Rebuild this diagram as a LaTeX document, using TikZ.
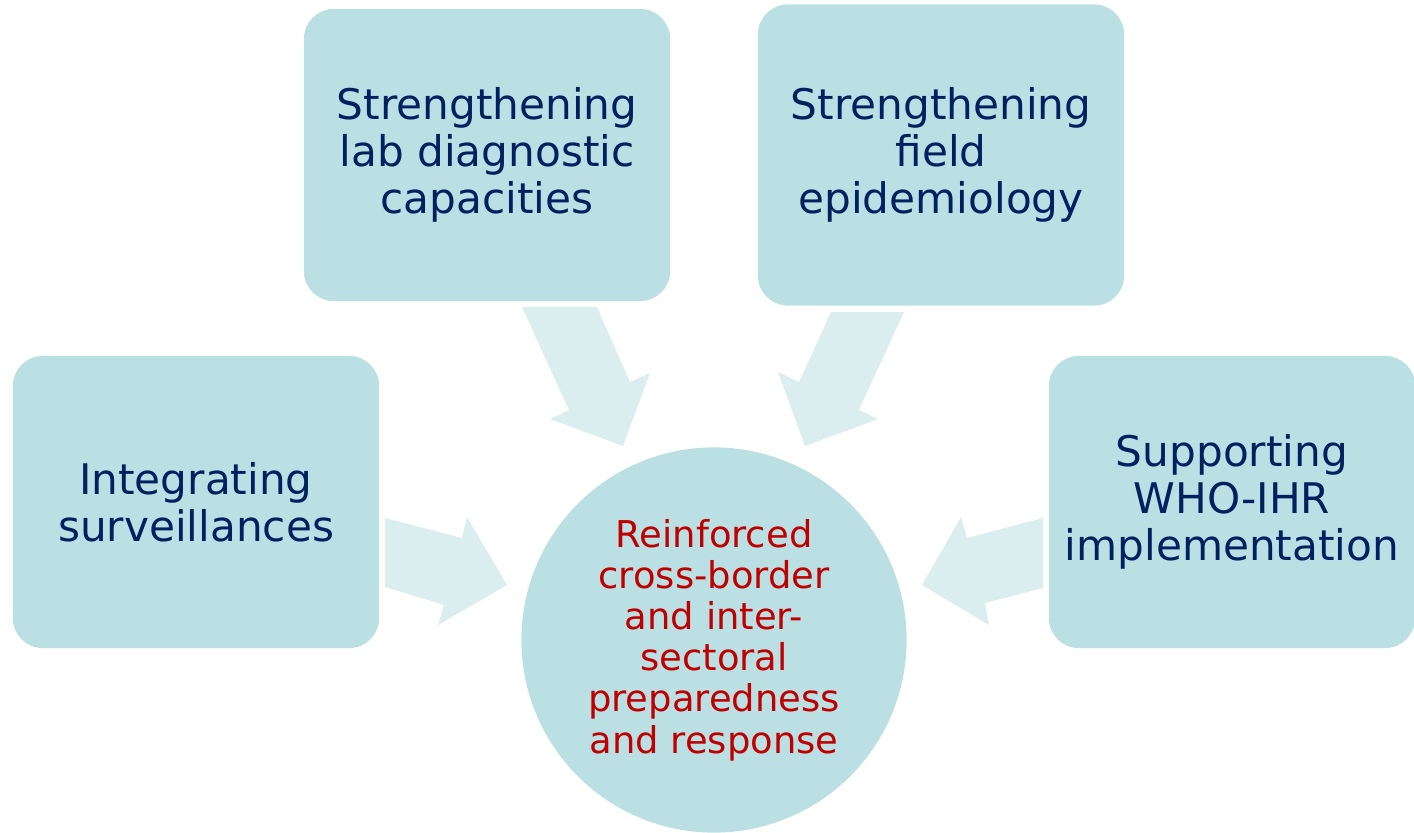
\documentclass[tikz,border=0pt]{standalone}
\usepackage{fontspec}
\setmainfont{DejaVu Sans}
\usetikzlibrary{positioning}
\definecolor{boxteal}{RGB}{186,224,227}
\definecolor{paleteal}{RGB}{218,237,239}
\definecolor{navytext}{RGB}{0,32,96}
\definecolor{redtext}{RGB}{192,0,0}
\tikzset{
  goal/.style={fill=boxteal,rounded corners=8.5pt,minimum width=3.66cm,minimum height=2.92cm,align=center,text=navytext,font=\fontsize{12}{13.3}\selectfont},
  hub/.style={circle,fill=boxteal,minimum size=3.85cm,inner sep=0pt,align=center,text=redtext,font=\fontsize{10.5}{11.7}\selectfont},
  flow/.style={fill=paleteal}
}
\begin{document}
\begin{tikzpicture}[x=0.01cm,y=-0.01cm]
  \useasboundingbox (0,0) rectangle (1414,833);
  % the four fields of action
  \node[goal] (lab) at (487,155) {Strengthening\\lab diagnostic\\capacities};
  \node[goal,minimum height=3.01cm] (field) at (941,155) {Strengthening\\field\\epidemiology};
  \node[goal] (surv) at (196,502) {Integrating\\surveillances};
  \node[goal] (ihr) at (1232,502) {Supporting\\WHO-IHR\\implementation};
  % converging block arrows
  \fill[flow] (385,518)--(462,538)--(467,517)--(507,585)--(438,625)--(444,605)--(385,587)--cycle;
  \fill[flow] (1043,518)--(967,538)--(961,517)--(922,585)--(989,625)--(985,603)--(1043,588)--cycle;
  \fill[flow] (522,307)--(597,307)--(630,382)--(650,373)--(623,446)--(550,419)--(569,410)--cycle;
  \fill[flow] (831,312)--(904,312)--(859,410)--(878,419)--(805,446)--(778,372)--(799,382)--cycle;
  \node[hub] (goal) at (714,640) {Reinforced\\cross-border\\and inter-\\sectoral\\preparedness\\and response};
\end{tikzpicture}
\end{document}
